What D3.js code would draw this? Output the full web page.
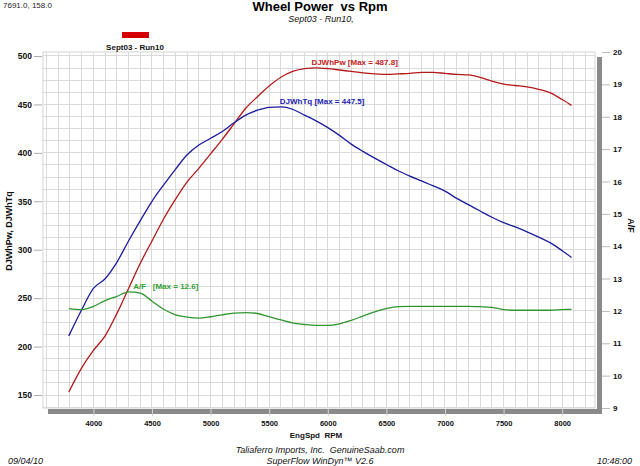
<!DOCTYPE html>
<html><head><meta charset="utf-8">
<script src="https://cdn.jsdelivr.net/npm/d3@7"></script>
<style>
html,body{margin:0;padding:0;background:#fff;}
text{font-family:Arial,"Liberation Sans",sans-serif;}
</style></head>
<body><svg id="c" width="640" height="466"></svg>
<script>
// ---- data ----
const rpm = [3790,3900,4000,4100,4200,4300,4400,4500,4600,4700,4800,4900,5000,5100,5200,5300,5400,5500,5600,5700,5800,5900,6000,6100,6200,6300,6400,6500,6600,6700,6800,6900,7000,7100,7200,7300,7400,7500,7600,7700,7800,7900,8000,8080];
const power = [153,178,196,211,234,260,286,309,332,352,370,384,399,414,430,446,458,469,478,484,487,487.8,487,485.5,484,482.5,481.5,481,481.5,482,483,483,482,481,480.5,478,474,471,469.5,468,465.5,462,455,449];
const torque = [211,238,260,270,287,309,330,350,367,383,398,408,415,422,431,439,444,447,447.5,445,439,433,426,418,409,401.5,394.5,388,381.5,376,371,366,360.5,353,346.5,340,333.5,328,323.5,318.5,313,307,299,292];
const afr = [12.07,12.04,12.14,12.32,12.45,12.59,12.55,12.3,12.05,11.88,11.81,11.78,11.82,11.88,11.93,11.95,11.92,11.82,11.72,11.63,11.58,11.55,11.55,11.6,11.71,11.84,11.97,12.07,12.13,12.14,12.14,12.14,12.14,12.14,12.14,12.13,12.11,12.04,12.02,12.02,12.02,12.02,12.04,12.05];
const seriesNames = ["DJWhPw","DJWhTq","A/F"];
const seriesMax = ["487.8","447.5","12.6"];
const labelRpm = [5860,5590,4340];
const xTicks = [4000,4500,5000,5500,6000,6500,7000,7500,8000];
const leftTicks = [150,200,250,300,350,400,450,500];
const rightTicks = [9,10,11,12,13,14,15,16,17,18,19,20];
const title = "Wheel Power  vs Rpm";
const subtitle = "Sept03 - Run10,";
const legendLabel = "Sept03 - Run10";
const cursorText = "7691.0, 158.0";
const xTitle = "EngSpd  RPM";
const leftTitle = "DJWhPw, DJWhTq";
const rightTitle = "A/F";
const footer1 = "Taliaferro Imports, Inc.  GenuineSaab.com";
const footer2 = "SuperFlow WinDyn\u2122 V2.6";
const dateText = "09/04/10";
const timeText = "10:48:00";

// ---- layout ----
const L = 43, R = 595, T = 52, B = 408;
const svg = d3.select("#c");
const x = d3.scaleLinear().domain([3570, 8280]).range([L, R]);
const yL = d3.scaleLinear().domain([136.6, 504.1]).range([B, T]);
const yR = d3.scaleLinear().domain([9, 20]).range([B, T]);

const lineCol = ["#b41818", "#1c1c9c", "#2f962f"];
const textCol = ["#c42020", "#2020b0", "#30a030"];

// grid
const g = svg.append("g");
g.append("rect").attr("x", L).attr("y", T).attr("width", R - L).attr("height", B - T)
  .attr("fill", "#fff").attr("stroke", "#d4d4d4");
g.selectAll(".vg").data(d3.range(3600, 8280, 100)).join("line")
  .attr("x1", d => x(d)).attr("x2", d => x(d)).attr("y1", T).attr("y2", B)
  .attr("stroke", "#dadada").attr("stroke-width", 1).attr("shape-rendering", "crispEdges");
g.selectAll(".hg").data(d3.range(137.5, 505, 12.5)).join("line")
  .attr("x1", L).attr("x2", R).attr("y1", d => yL(d)).attr("y2", d => yL(d))
  .attr("stroke", "#dadada").attr("stroke-width", 1).attr("shape-rendering", "crispEdges");

// gray axis bars
svg.append("rect").attr("x", 48).attr("y", 409).attr("width", 554).attr("height", 5).attr("fill", "#8a8a8a");
svg.append("rect").attr("x", 597).attr("y", 57).attr("width", 5).attr("height", 357).attr("fill", "#8a8a8a");

// x axis
const xAxis = d3.axisBottom(x).tickValues(xTicks).tickSize(8).tickPadding(4).tickFormat(d3.format("d"));
const xg = svg.append("g").attr("transform", `translate(0,${409})`).call(xAxis);
xg.select(".domain").remove();
xg.selectAll(".tick line").attr("stroke", "#d0d0d0").attr("y2", 7);
xg.selectAll(".tick text").attr("font-size", "7.5px").attr("font-weight", "bold").attr("fill", "#111").attr("dy", "0.6em");

// left axis
const lAxis = d3.axisLeft(yL).tickValues(leftTicks).tickSize(8).tickPadding(2);
const lg = svg.append("g").attr("transform", `translate(${L - 1},0)`).call(lAxis);
lg.select(".domain").remove();
lg.selectAll(".tick line").attr("stroke", "#aaa");
lg.selectAll(".tick text").attr("font-size", "8.5px").attr("font-weight", "bold").attr("fill", "#111");

// right axis
const rAxis = d3.axisRight(yR).tickValues(rightTicks).tickSize(8).tickPadding(3);
const rg = svg.append("g").attr("transform", `translate(602,0)`).call(rAxis);
rg.select(".domain").remove();
rg.selectAll(".tick line").attr("stroke", "#bbb");
rg.selectAll(".tick text").attr("font-size", "8px").attr("font-weight", "bold").attr("fill", "#111");

// lines
const series = [
  {vals: power, y: yL},
  {vals: torque, y: yL},
  {vals: afr, y: yR}
];
svg.append("clipPath").attr("id", "pc").append("rect")
  .attr("x", L).attr("y", T).attr("width", R - L).attr("height", B - T);
const lines = svg.append("g").attr("clip-path", "url(#pc)");
series.forEach((s, i) => {
  const ln = d3.line().x((d, j) => x(rpm[j])).y(d => s.y(d)).curve(d3.curveMonotoneX);
  lines.append("path").attr("d", ln(s.vals)).attr("fill", "none")
    .attr("stroke", lineCol[i]).attr("stroke-width", 1.3);
});

// series labels at max
series.forEach((s, i) => {
  const mv = d3.max(s.vals);
  const lbl = seriesNames[i] + (i === 2 ? "   " : " ") + "[Max = " + seriesMax[i] + "]";
  svg.append("text").attr("x", x(labelRpm[i])).attr("y", s.y(mv) - 2.5)
    .attr("font-size", "8px").attr("font-weight", "bold").attr("fill", textCol[i])
    .style("white-space", "pre").text(lbl);
});

// titles
svg.append("text").attr("x", 320).attr("y", 11).attr("text-anchor", "middle")
  .attr("font-size", "13px").attr("font-weight", "bold").attr("fill", "#000")
  .style("white-space", "pre").text(title);
svg.append("text").attr("x", 321).attr("y", 22).attr("text-anchor", "middle")
  .attr("font-size", "9px").attr("font-style", "italic").attr("fill", "#111").text(subtitle);
svg.append("text").attr("x", 3).attr("y", 8).attr("font-size", "8px").attr("fill", "#222").text(cursorText);

// legend
svg.append("rect").attr("x", 122).attr("y", 32).attr("width", 27).attr("height", 6).attr("fill", "#d40000");
svg.append("text").attr("x", 135).attr("y", 50).attr("text-anchor", "middle")
  .attr("font-size", "8px").attr("font-weight", "bold").attr("fill", "#111").text(legendLabel);

// axis titles
svg.append("text").attr("x", 316).attr("y", 438).attr("text-anchor", "middle")
  .attr("font-size", "8px").attr("font-weight", "bold").attr("fill", "#111")
  .style("white-space", "pre").text(xTitle);
svg.append("text").attr("transform", "translate(11.5,231) rotate(-90)").attr("text-anchor", "middle")
  .attr("font-size", "9px").attr("font-weight", "bold").attr("fill", "#111").text(leftTitle);
svg.append("text").attr("transform", "translate(628,225.5) rotate(90)").attr("text-anchor", "middle")
  .attr("font-size", "9px").attr("font-weight", "bold").attr("fill", "#111").text(rightTitle);

// footer
svg.append("text").attr("x", 320).attr("y", 453).attr("text-anchor", "middle")
  .attr("font-size", "9px").attr("font-style", "italic").attr("fill", "#111")
  .style("white-space", "pre").text(footer1);
svg.append("text").attr("x", 320).attr("y", 464).attr("text-anchor", "middle")
  .attr("font-size", "9px").attr("font-style", "italic").attr("fill", "#111").text(footer2);
svg.append("text").attr("x", 8).attr("y", 464)
  .attr("font-size", "9px").attr("font-style", "italic").attr("fill", "#111").text(dateText);
svg.append("text").attr("x", 632).attr("y", 464).attr("text-anchor", "end")
  .attr("font-size", "9px").attr("font-style", "italic").attr("fill", "#111").text(timeText);
</script></body></html>
